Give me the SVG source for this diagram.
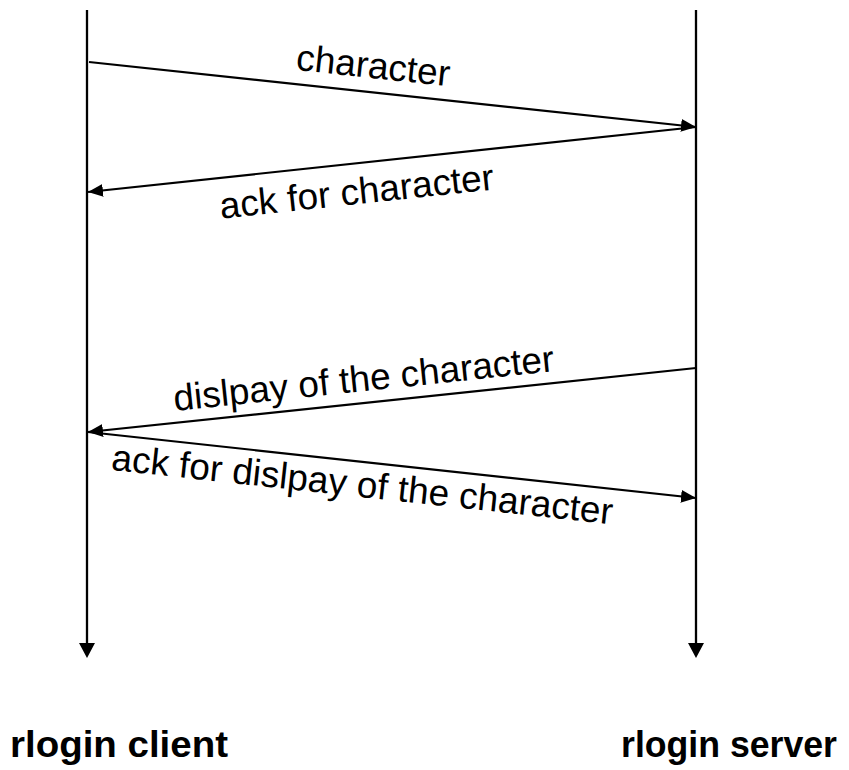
<svg xmlns="http://www.w3.org/2000/svg" width="849" height="770" viewBox="0 0 849 770">
  <style>
    .life { stroke: #000; stroke-width: 2.3; fill: none; }
    .msg { stroke: #000; stroke-width: 2.2; fill: none; marker-end: url(#head); }
    .lbl { font-family: "Liberation Sans", Arial, sans-serif; font-size: 37px; fill: #000; text-anchor: middle; }
    .name { font-family: "Liberation Sans", Arial, sans-serif; font-size: 37px; font-weight: bold; fill: #000; }
  </style>
  <defs>
    <marker id="head" markerUnits="userSpaceOnUse" markerWidth="16" markerHeight="14" refX="15" refY="6.5" orient="auto">
      <path d="M0,0 L15,6.5 L0,13 Z" fill="#000"/>
    </marker>
  </defs>
  <rect width="849" height="770" fill="#fff"/>

  <!-- lifelines -->
  <g id="client">
    <line class="life" x1="87" y1="10" x2="87" y2="645"/>
    <path d="M79,643 L95,643 L87,658 Z" fill="#000"/>
    <text class="name" x="10" y="757" textLength="218" lengthAdjust="spacingAndGlyphs">rlogin client</text>
  </g>
  <g id="server">
    <line class="life" x1="696" y1="10" x2="696" y2="645"/>
    <path d="M688,643 L704,643 L696,658 Z" fill="#000"/>
    <text class="name" x="621" y="757" textLength="216" lengthAdjust="spacingAndGlyphs">rlogin server</text>
  </g>

  <!-- messages -->
  <g id="connectors">
    <line class="msg" x1="89" y1="62" x2="696" y2="127"/>
    <line class="msg" x1="696" y1="127" x2="88" y2="192"/>
    <line class="msg" x1="696" y1="368" x2="88" y2="432"/>
    <line class="msg" x1="88" y1="432" x2="696" y2="498"/>
  </g>

  <g id="labels">
    <text class="lbl" x="372" y="78" transform="rotate(6.1 372 78)">character</text>
    <text class="lbl" x="358" y="204" transform="rotate(-6.1 358 204)">ack for character</text>
    <text class="lbl" x="365" y="391" transform="rotate(-6 365 391)">dislpay of the character</text>
    <text class="lbl" x="361" y="497" transform="rotate(6.2 361 497)">ack for dislpay of the character</text>
  </g>
</svg>
